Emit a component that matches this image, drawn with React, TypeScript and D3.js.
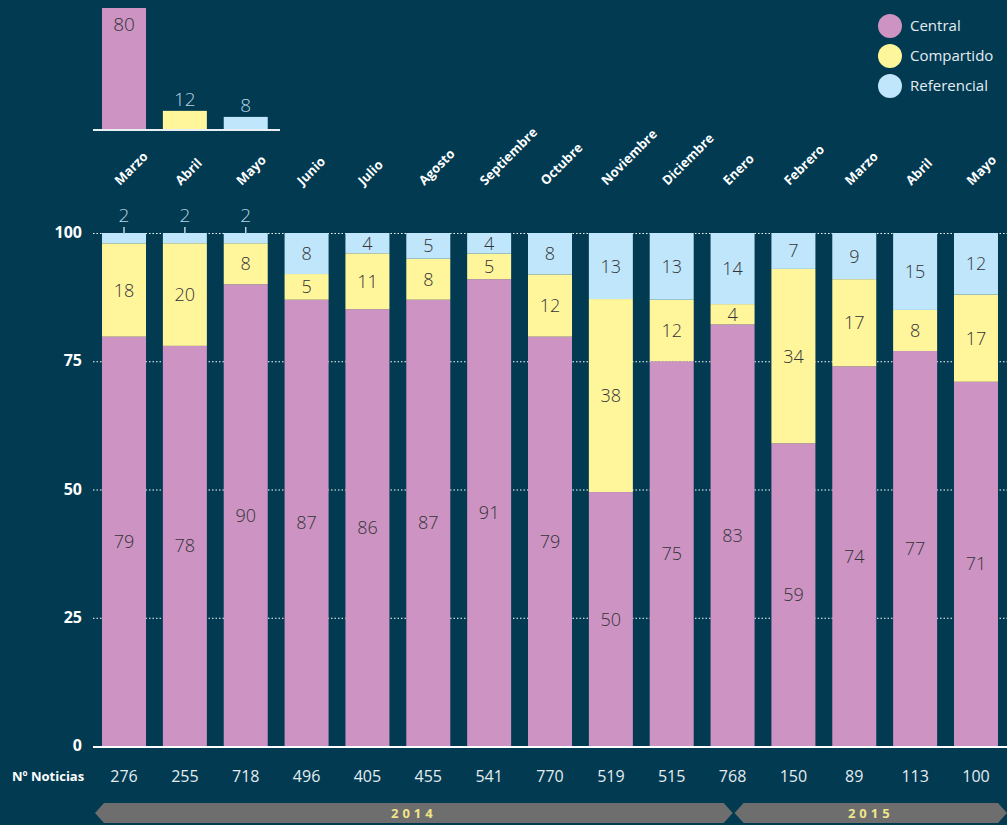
import React, { useEffect, useRef } from "react";
import * as d3 from "d3";

const months = ["Marzo", "Abril", "Mayo", "Junio", "Julio", "Agosto", "Septiembre", "Octubre", "Noviembre", "Diciembre", "Enero", "Febrero", "Marzo", "Abril", "Mayo"];
const central = [79, 78, 90, 87, 86, 87, 91, 79, 50, 75, 83, 59, 74, 77, 71];
const compartido = [18, 20, 8, 5, 11, 8, 5, 12, 38, 12, 4, 34, 17, 8, 17];
const referencial = [2, 2, 2, 8, 4, 5, 4, 8, 13, 13, 14, 7, 9, 15, 12];
const noticias = [276, 255, 718, 496, 405, 455, 541, 770, 519, 515, 768, 150, 89, 113, 100];
const yTicks = [0, 25, 50, 75, 100];
const insetValues = [80, 12, 8];
const seriesNames = ["Central", "Compartido", "Referencial"];
const years = [
  { label: "2014", from: 0, to: 9 },
  { label: "2015", from: 10, to: 14 },
];

const colors = ["#cd93c2", "#fff59b", "#bfe6fa"];
const bg = "#013a51";

function App() {
  const ref = useRef<SVGSVGElement>(null);

  useEffect(() => {
    const width = 1007;
    const height = 825;
    const svg = d3.select(ref.current);
    svg.selectAll("*").remove();

    svg.append("rect").attr("width", width).attr("height", height).attr("fill", bg);

    const idx = months.map((_, i) => String(i));
    const x = d3.scaleBand().domain(idx).range([93.5, 1006.5]).paddingInner(0.277).paddingOuter(0.14);
    const y = d3.scaleLinear().domain([0, 100]).range([746, 233]);

    const font = "'Open Sans', 'Noto Sans', sans-serif";

    // gridlines
    svg.append("g")
      .selectAll("line")
      .data(yTicks.filter((t) => t > 0))
      .join("line")
      .attr("x1", 93)
      .attr("x2", width)
      .attr("y1", (d) => y(d) + 0.5)
      .attr("y2", (d) => y(d) + 0.5)
      .attr("stroke", "#ffffff")
      .attr("stroke-width", 1.2)
      .attr("stroke-dasharray", "1.5,2");

    svg.append("g")
      .selectAll("text")
      .data(yTicks)
      .join("text")
      .attr("x", 82)
      .attr("y", (d) => y(d) + 5)
      .attr("text-anchor", "end")
      .attr("fill", "#ffffff")
      .attr("font-family", font)
      .attr("font-weight", 700)
      .attr("font-size", 16)
      .text((d) => d);

    // stacked segments, normalised to 100
    const table = months.map((m, i) => ({ i: String(i), central: central[i], compartido: compartido[i], referencial: referencial[i] }));
    const keys = ["central", "compartido", "referencial"];
    const series = d3.stack<any>().keys(keys).offset(d3.stackOffsetExpand)(table);

    const bars = svg.append("g");
    series.forEach((s, k) => {
      bars.selectAll(null)
        .data(s)
        .join("rect")
        .attr("x", (d: any) => x(d.data.i)!)
        .attr("width", x.bandwidth())
        .attr("y", (d: any) => y(d[1] * 100))
        .attr("height", (d: any) => y(d[0] * 100) - y(d[1] * 100))
        .attr("fill", colors[k]);
    });

    const labels = svg.append("g").attr("font-family", font).attr("font-size", 18).attr("text-anchor", "middle");
    series.forEach((s, k) => {
      s.forEach((d: any) => {
        const v = d.data[keys[k]];
        const cx = x(d.data.i)! + x.bandwidth() / 2;
        const h = y(d[0] * 100) - y(d[1] * 100);
        if (h < 16) {
          labels.append("line")
            .attr("x1", cx).attr("x2", cx)
            .attr("y1", y(100) - 6).attr("y2", y(100) + 1)
            .attr("stroke", "#b8d4e2").attr("stroke-width", 1.5);
          labels.append("text")
            .attr("x", cx)
            .attr("y", y(100) - 11)
            .attr("fill", "#b8d4e2")
            .attr("font-weight", 300)
            .attr("font-size", 19)
            .text(v);
        } else {
          labels.append("text")
            .attr("x", cx)
            .attr("y", (y(d[0] * 100) + y(d[1] * 100)) / 2 + 6.5)
            .attr("fill", "#333338")
            .attr("font-weight", 300)
            .text(v);
        }
      });
    });

    // baseline
    svg.append("line")
      .attr("x1", 93).attr("x2", width)
      .attr("y1", y(0) + 1).attr("y2", y(0) + 1)
      .attr("stroke", "#ffffff").attr("stroke-width", 2);

    // month labels
    svg.append("g")
      .selectAll("text")
      .data(months)
      .join("text")
      .attr("transform", (d, i) => `translate(${x(String(i))! + x.bandwidth() / 2 - 4},186) rotate(-45)`)
      .attr("fill", "#ffffff")
      .attr("font-family", font)
      .attr("font-weight", 700)
      .attr("font-size", 13)
      .text((d) => d);

    // Nº Noticias
    svg.append("text")
      .attr("x", 12)
      .attr("y", 781)
      .attr("fill", "#ffffff")
      .attr("font-family", font)
      .attr("font-weight", 700)
      .attr("font-size", 13)
      .text("Nº Noticias");

    svg.append("g")
      .selectAll("text")
      .data(noticias)
      .join("text")
      .attr("x", (d, i) => x(String(i))! + x.bandwidth() / 2)
      .attr("y", 782)
      .attr("text-anchor", "middle")
      .attr("fill", "#e4edf2")
      .attr("font-family", font)
      .attr("font-size", 16)
      .text((d) => d);

    // year bands
    years.forEach((yr, j) => {
      const cStart = x(String(yr.from))! + x.bandwidth() / 2;
      const cEnd = x(String(yr.to))! + x.bandwidth() / 2;
      const t = 803, b = 823, m = 813, n = 9;
      const x0 = j === 0 ? 95 : cStart + 2;
      const x1 = j === 0 ? cEnd + 61 : width;
      svg.append("polygon")
        .attr("points", [
          [x0 + n, t], [x1 - n, t], [x1, m], [x1 - n, b], [x0 + n, b], [x0, m],
        ].map((p) => p.join(",")).join(" "))
        .attr("fill", "#6e6e6e");
      svg.append("text")
        .attr("x", (x0 + x1) / 2)
        .attr("y", 818)
        .attr("text-anchor", "middle")
        .attr("fill", "#f1e58a")
        .attr("font-family", font)
        .attr("font-weight", 700)
        .attr("font-size", 13)
        .attr("letter-spacing", 4)
        .text(yr.label);
    });

    // inset
    const yi = d3.scaleLinear().domain([0, 80]).range([129, 8]);
    const inset = svg.append("g");
    insetValues.forEach((v, i) => {
      inset.append("rect")
        .attr("x", x(String(i))!)
        .attr("width", x.bandwidth())
        .attr("y", yi(v))
        .attr("height", yi(0) - yi(v))
        .attr("fill", colors[i]);
      const inside = yi(0) - yi(v) > 30;
      inset.append("text")
        .attr("x", x(String(i))! + x.bandwidth() / 2)
        .attr("y", inside ? yi(v) + 23 : yi(v) - 5)
        .attr("text-anchor", "middle")
        .attr("fill", inside ? "#333338" : "#b8d4e2")
        .attr("font-family", font)
        .attr("font-weight", 300)
        .attr("font-size", 19)
        .text(v);
    });
    inset.append("line")
      .attr("x1", 93).attr("x2", 280)
      .attr("y1", 130).attr("y2", 130)
      .attr("stroke", "#e8eef2").attr("stroke-width", 2);

    // legend
    const legend = svg.append("g").attr("transform", "translate(890,26)");
    seriesNames.forEach((s, i) => {
      legend.append("circle").attr("cx", 0).attr("cy", i * 30).attr("r", 12).attr("fill", colors[i]);
      legend.append("text")
        .attr("x", 20)
        .attr("y", i * 30 + 5)
        .attr("fill", "#e4edf2")
        .attr("font-family", font)
        .attr("font-size", 15)
        .text(s);
    });
  }, []);

  return (
    <svg
      ref={ref}
      width={1007}
      height={825}
      style={{ position: "absolute", left: 0, top: 0, display: "block" }}
    />
  );
}

export default App;
